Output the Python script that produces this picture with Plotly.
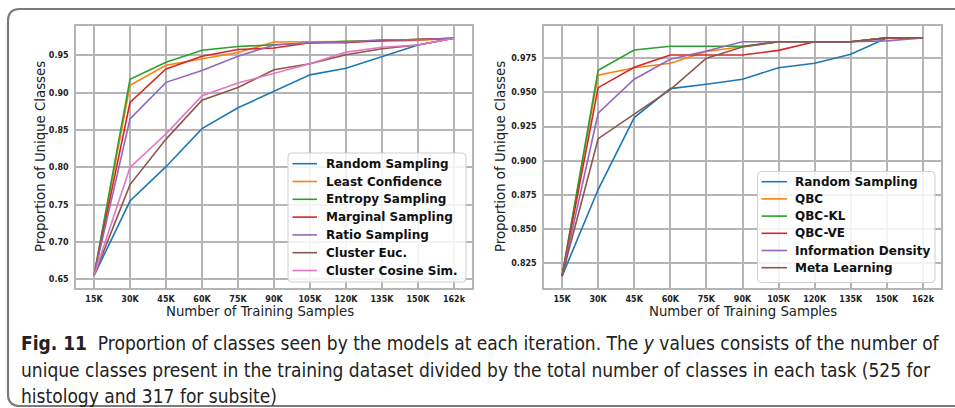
import plotly.graph_objects as go

W, H = 955, 408

x_labels = ["15K", "30K", "45K", "60K", "75K", "90K", "105K", "120K", "135K", "150K", "162k"]

# Left panel (histology)
left_names = ["Random Sampling", "Least Confidence", "Entropy Sampling", "Marginal Sampling",
              "Ratio Sampling", "Cluster Euc.", "Cluster Cosine Sim."]
random_l = [0.655, 0.755, 0.801, 0.852, 0.880, 0.902, 0.924, 0.933, 0.949, 0.964, 0.973]
least_conf = [0.655, 0.910, 0.937, 0.946, 0.954, 0.968, 0.968, 0.968, 0.969, 0.970, 0.973]
entropy = [0.655, 0.918, 0.941, 0.957, 0.962, 0.964, 0.967, 0.969, 0.970, 0.971, 0.973]
marginal = [0.655, 0.887, 0.932, 0.949, 0.958, 0.960, 0.967, 0.967, 0.970, 0.971, 0.973]
ratio = [0.655, 0.865, 0.914, 0.930, 0.949, 0.964, 0.967, 0.968, 0.971, 0.971, 0.973]
cluster_euc = [0.655, 0.777, 0.838, 0.890, 0.907, 0.931, 0.939, 0.951, 0.959, 0.964, 0.973]
cluster_cos = [0.655, 0.800, 0.845, 0.896, 0.913, 0.9265, 0.939, 0.9545, 0.961, 0.964, 0.973]
left_series = [random_l, least_conf, entropy, marginal, ratio, cluster_euc, cluster_cos]
left_ticks = [0.65, 0.70, 0.75, 0.80, 0.85, 0.90, 0.95]

# Right panel (subsite)
right_names = ["Random Sampling", "QBC", "QBC-KL", "QBC-VE", "Information Density", "Meta Learning"]
random_r = [0.8157, 0.879, 0.9316, 0.9528, 0.956, 0.9597, 0.9681, 0.9713, 0.9779, 0.9898, 0.9899]
qbc = [0.8157, 0.9626, 0.9681, 0.9713, 0.980, 0.9838, 0.9871, 0.9871, 0.9871, 0.9899, 0.9899]
qbc_kl = [0.8157, 0.9662, 0.9811, 0.9838, 0.9838, 0.9838, 0.9871, 0.9871, 0.9871, 0.9899, 0.9899]
qbc_ve = [0.8157, 0.9535, 0.9684, 0.9774, 0.9774, 0.9774, 0.9808, 0.9871, 0.9871, 0.9899, 0.9899]
info_density = [0.8157, 0.9348, 0.9597, 0.9743, 0.9803, 0.9871, 0.9871, 0.9871, 0.9871, 0.9877, 0.9899]
meta = [0.8157, 0.9162, 0.9341, 0.952, 0.975, 0.9833, 0.9871, 0.9871, 0.9871, 0.9899, 0.9899]
right_series = [random_r, qbc, qbc_kl, qbc_ve, info_density, meta]
right_ticks = [0.825, 0.850, 0.875, 0.900, 0.925, 0.950, 0.975]

colors = ["#1f77b4", "#ff7f0e", "#2ca02c", "#d62728", "#9467bd", "#8c564b", "#e377c2"]

caption_lines = [
    "<b>Fig. 11</b>  Proportion of classes seen by the models at each iteration. The <i>y</i> values consists of the number of",
    "unique classes present in the training dataset divided by the total number of classes in each task (525 for",
    "histology and 317 for subsite)",
]


def px(x):
    return x / W


def py(y):
    return 1 - y / H


fig = go.Figure()
for name, ys, c in zip(left_names, left_series, colors):
    fig.add_trace(go.Scatter(x=x_labels, y=ys, name=name, mode="lines",
                             line=dict(color=c, width=1.6), xaxis="x", yaxis="y",
                             showlegend=False))
for name, ys, c in zip(right_names, right_series, colors):
    fig.add_trace(go.Scatter(x=x_labels, y=ys, name=name, mode="lines",
                             line=dict(color=c, width=1.6), xaxis="x2", yaxis="y2",
                             showlegend=False))

grid = "#b5b5b5"
tickfont = dict(family="DejaVu Sans", size=8, color="#222", weight="bold")
common_x = dict(type="category", range=[-0.5, 10.5], showgrid=True, gridcolor=grid, gridwidth=1.6,
                showline=True, linecolor=grid, linewidth=1.6, mirror=True, zeroline=False,
                ticks="", tickfont=tickfont, ticklabelstandoff=3, fixedrange=True)
common_y = dict(showgrid=True, gridcolor=grid, gridwidth=1.6, showline=True, linecolor=grid,
                linewidth=1.6, mirror=True, zeroline=False, ticks="", tickfont=tickfont,
                ticklabelstandoff=4)

fig.update_layout(
    width=W, height=H, margin=dict(l=0, r=0, t=0, b=0),
    paper_bgcolor="white", plot_bgcolor="white",
    xaxis=dict(domain=[px(76), px(472)], anchor="y", **common_x),
    yaxis=dict(domain=[py(288), py(26)], anchor="x", range=[0.6385, 0.9895],
               tickvals=left_ticks, tickformat=".2f", **common_y),
    xaxis2=dict(domain=[px(544), px(941)], anchor="y2", **common_x),
    yaxis2=dict(domain=[py(288), py(26)], anchor="x2", range=[0.807, 0.9986],
                tickvals=right_ticks, tickformat=".3f", **common_y),
    showlegend=False,
)

title_font = dict(family="DejaVu Sans", size=13.3, color="#222")
anns = [
    dict(text="Number of Training Samples", x=px(260), y=py(311)),
    dict(text="Number of Training Samples", x=px(743), y=py(311)),
    dict(text="Proportion of Unique Classes", x=px(40), y=py(157), textangle=-90),
    dict(text="Proportion of Unique Classes", x=px(500), y=py(157), textangle=-90),
]
for a in anns:
    fig.add_annotation(xref="paper", yref="paper", showarrow=False, xanchor="center",
                       yanchor="middle", font=title_font, **a)


def rounded_rect(x0, y0, x1, y1, r):
    return (f"M {px(x0 + r)},{py(y0)} L {px(x1 - r)},{py(y0)} Q {px(x1)},{py(y0)} {px(x1)},{py(y0 + r)} "
            f"L {px(x1)},{py(y1 - r)} Q {px(x1)},{py(y1)} {px(x1 - r)},{py(y1)} "
            f"L {px(x0 + r)},{py(y1)} Q {px(x0)},{py(y1)} {px(x0)},{py(y1 - r)} "
            f"L {px(x0)},{py(y0 + r)} Q {px(x0)},{py(y0)} {px(x0 + r)},{py(y0)} Z")


legend_font = dict(family="DejaVu Sans", size=12, color="#111", weight="bold")


def draw_legend(names, box, first_y, step, line_x, text_x):
    fig.add_shape(type="path", xref="paper", yref="paper", layer="above",
                  path=rounded_rect(*box, 4), fillcolor="rgba(255,255,255,0.85)",
                  line=dict(color="#cfcfcf", width=1))
    for i, (name, c) in enumerate(zip(names, colors)):
        yy = first_y + i * step
        fig.add_shape(type="line", xref="paper", yref="paper", layer="above",
                      x0=px(line_x[0]), x1=px(line_x[1]), y0=py(yy), y1=py(yy),
                      line=dict(color=c, width=1.6))
        fig.add_annotation(xref="paper", yref="paper", showarrow=False, xanchor="left",
                           yanchor="middle", x=px(text_x), y=py(yy), text=name,
                           font=legend_font)


draw_legend(left_names, (288, 153, 466, 282), 163.7, 17.8, (292.5, 317), 324)
draw_legend(right_names, (757.5, 171.5, 935, 282.5), 181.7, 17.2, (761.5, 787), 793)

cap_font = dict(family="Liberation Sans Narrow, DejaVu Sans Condensed, Roboto, sans-serif",
                size=19, color="#222")
for line, yc in zip(caption_lines, [343, 370, 396]):
    fig.add_annotation(xref="paper", yref="paper", showarrow=False, xanchor="left",
                       yanchor="middle", x=px(19), y=py(yc), text=line, font=cap_font)

# rounded figure frame
r = 12
path = (f"M {px(960)},{py(9)} L {px(8 + r)},{py(9)} Q {px(8)},{py(9)} {px(8)},{py(9 + r)} "
        f"L {px(8)},{py(406 - r)} Q {px(8)},{py(406)} {px(8 + r)},{py(406)} L {px(960)},{py(406)}")
fig.add_shape(type="path", xref="paper", yref="paper", path=path,
              line=dict(color="#7a7a7a", width=2.2))

fig.write_html("out.html")
